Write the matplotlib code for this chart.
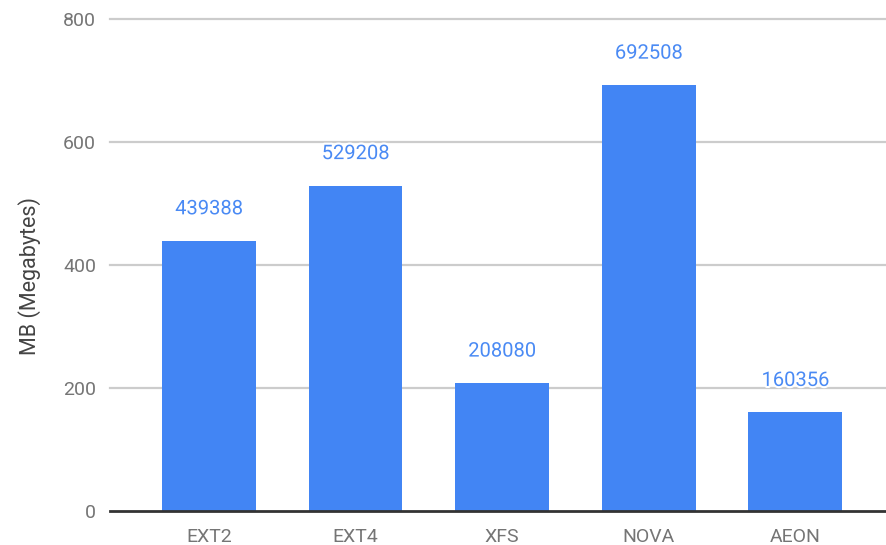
import matplotlib.pyplot as plt
import matplotlib.patheffects as pe

systems = ["EXT2", "EXT4", "XFS", "NOVA", "AEON"]
sizes_kb = [439388, 529208, 208080, 692508, 160356]
yticks = [0, 200, 400, 600, 800]

plt.rcParams['font.family'] = ['Roboto', 'DejaVu Sans']

fig = plt.figure(figsize=(8.87, 5.45), dpi=100)
ax = fig.add_axes([110 / 887, 34 / 545, 777 / 887, 492 / 545])

mb = [v / 1000 for v in sizes_kb]
x = range(len(systems))
ax.bar(x, mb, width=0.64, color="#4285F4", zorder=3)

for xi, v, raw in zip(x, mb, sizes_kb):
    ax.annotate(str(raw), (xi, v), xytext=(0, 23), textcoords="offset points",
                ha="center", va="center", fontsize=14.5, color="#4a8af4", zorder=5,
                path_effects=[pe.withStroke(linewidth=3, foreground="white")])

ax.set_xlim(-0.675, 4.625)
ax.set_ylim(0, 800)
ax.set_yticks(yticks)
ax.set_xticks(list(x))
ax.set_xticklabels(systems)
for t in yticks[1:]:
    ax.axhline(t, color="#cccccc", lw=1.6, zorder=1, clip_on=False)
ax.axhline(0, color="#333333", lw=2, zorder=4, clip_on=False)

for s in ax.spines.values():
    s.set_visible(False)
ax.tick_params(axis="both", length=0, labelsize=14, colors="#757575")
ax.tick_params(axis="y", pad=10)
ax.tick_params(axis="x", pad=12)
ax.set_ylabel("MB (Megabytes)", fontsize=15.5, color="#444444", va="center")
ax.yaxis.set_label_coords(-0.103, 0.478)

fig.savefig("out.png", dpi=100)
